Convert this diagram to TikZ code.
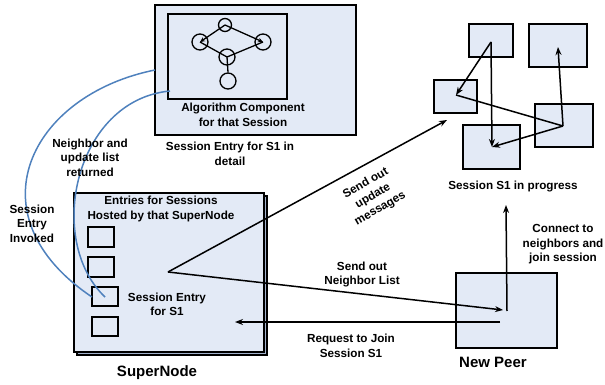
\documentclass[tikz,border=0pt]{standalone}
\usepackage{fontspec}
\setmainfont{Liberation Sans}
\usetikzlibrary{arrows.meta}
\definecolor{boxfill}{HTML}{E3EAF6}
\definecolor{shadowfill}{HTML}{A3B2CC}
\definecolor{curveblue}{HTML}{4F81BD}
\begin{document}
\begin{tikzpicture}[x=1pt,y=-1pt,
  lbl/.style={font=\bfseries\fontsize{11.7}{14.5}\selectfont, align=center, inner sep=0pt},
  biglbl/.style={font=\bfseries\fontsize{15}{17}\selectfont, inner sep=0pt},
  pbox/.style={draw=black, line width=1.5pt, fill=boxfill, inner sep=0pt},
  circ/.style={circle, draw=black, line width=1.3pt, fill=boxfill, inner sep=0pt},
  arr/.style={line width=1.5pt, -{Stealth[length=8pt,width=6pt]}},
  ln/.style={line width=1.5pt},
  blueline/.style={draw=curveblue, line width=1.5pt}
]
\useasboundingbox (0,0) rectangle (605,385);

% ---- Session entry detail box ----
\node[pbox, minimum width=201pt, minimum height=130pt] (detail) at (255.5,70) {};
\node[pbox, minimum width=119pt, minimum height=85pt] (algo) at (227.5,56.5) {};
\node[circ, minimum size=13pt] (gt) at (225,25) {};
\node[circ, minimum size=16pt] (gl) at (200,42) {};
\node[circ, minimum size=16pt] (gr) at (263,42) {};
\node[circ, minimum size=16pt] (gc) at (227,57) {};
\node[circ, minimum size=16pt] (gb) at (228,81) {};
\draw[line width=1.3pt, -{Stealth[length=5pt,width=4.5pt]}] (gt.center) -- (gl.center);
\draw[line width=1.3pt, -{Stealth[length=5pt,width=4.5pt]}] (gt.center) -- (gr.center);
\draw[line width=1.3pt] (gl.center) -- (gc.center);
\draw[line width=1.3pt] (gr.center) -- (gc.center);
\draw[line width=1.3pt] (gc.center) -- (gb.north);
\node[lbl] (algolbl) at (243,115) {Algorithm Component\\for that Session};
\node[lbl] (detaillbl) at (230,154) {Session Entry for S1 in\\detail};

% ---- Session S1 cluster ----
\node[pbox, minimum width=44pt, minimum height=33pt] (A) at (491,40.5) {};
\node[pbox, minimum width=58pt, minimum height=43pt] (B) at (558,45.5) {};
\node[pbox, minimum width=43pt, minimum height=33pt] (C) at (455.5,96.5) {};
\node[pbox, minimum width=58pt, minimum height=43pt] (D) at (564,125.5) {};
\node[pbox, minimum width=57pt, minimum height=44pt] (E) at (491.5,147) {};
\coordinate (a1) at (491,42);
\coordinate (c1) at (456,95);
\coordinate (e1) at (492,147);
\coordinate (d1) at (563,126);
\coordinate (b1) at (558,47);
\draw[arr] (a1) -- (c1);
\draw[arr] (a1) -- (e1);
\draw[ln] (c1) -- (d1);
\draw[arr] (d1) -- (b1);
\draw[arr] (d1) -- (e1);
\node[lbl] (s1lbl) at (513,187) {Session S1 in progress};
\coordinate (s1in) at (447,120);

% ---- SuperNode ----
\draw[line width=1.2pt, fill=shadowfill] (77,196) rectangle (267,355);
\node[pbox, minimum width=190pt, minimum height=159pt] (super) at (169,272.5) {};
\node[lbl] (entries) at (161,209) {Entries for Sessions\\Hosted by that SuperNode};
\node[pbox, minimum width=26pt, minimum height=20pt] (e1b) at (101,237) {};
\node[pbox, minimum width=26pt, minimum height=20pt] (e2b) at (101,267) {};
\node[pbox, minimum width=26pt, minimum height=19pt] (e3b) at (105,296.5) {};
\node[pbox, minimum width=26pt, minimum height=19pt] (e4b) at (105,326.5) {};
\node[lbl] (s1entry) at (167,304.5) {Session Entry\\for S1};
\node[biglbl] (superlbl) at (157,373) {SuperNode};
\coordinate (hub) at (168,272);
\coordinate (snin) at (235,322);

% ---- New Peer ----
\node[pbox, minimum width=101pt, minimum height=75pt] (peer) at (506.5,310.5) {};
\node[biglbl] (peerlbl) at (493,362) {New Peer};
\coordinate (p1) at (503,310);
\coordinate (p2) at (507,311);
\coordinate (p3) at (500,322);
\coordinate (s1up) at (506,205);

% ---- connectors ----
\draw[arr] (hub) -- (s1in);
\draw[arr] (hub) -- (p1);
\draw[arr] (p2) -- (s1up);
\draw[arr] (p3) -- (snin);

\node[lbl, rotate=30] (updlbl) at (373,196) {Send out\\update\\messages};
\node[lbl] (nbrlbl) at (362,274.5) {Send out\\Neighbor List};
\node[lbl] (reqlbl) at (351,346) {Request to Join\\Session S1};
\node[lbl] (conlbl) at (563,244.5) {Connect to\\neighbors and\\join session};

% ---- blue curves ----
\coordinate (c1s) at (155,70);
\coordinate (c1e) at (92,297);
\coordinate (c2s) at (170,91);
\coordinate (c2e) at (105,297);
\draw[blueline] (c1s) .. controls (30,95) and (-30,215) .. (c1e);
\draw[blueline] (c2s) .. controls (75,100) and (45,240) .. (c2e);
\node[lbl] (nbrret) at (90,157.5) {Neighbor and\\update list\\returned};
\node[lbl] (invoked) at (32,223.5) {Session\\Entry\\Invoked};
\end{tikzpicture}
\end{document}
